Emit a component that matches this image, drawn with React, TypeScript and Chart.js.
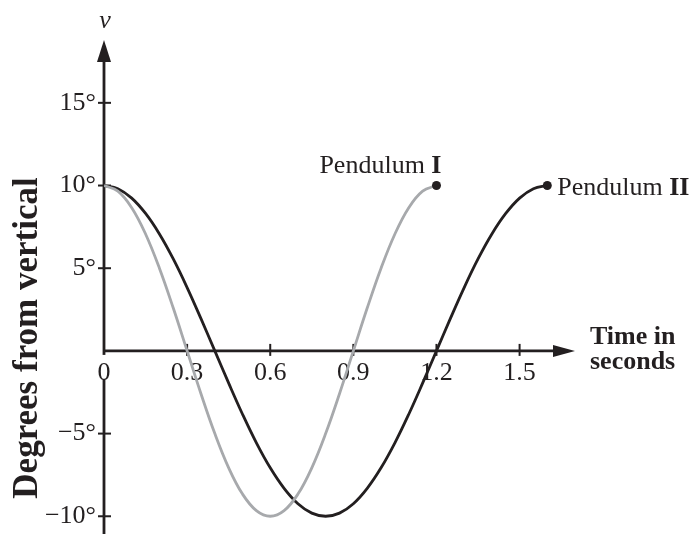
import React, { useEffect, useRef } from "react";
import { Chart, registerables } from "chart.js";

Chart.register(...registerables);

// Pendulum I: time (s) and angle (degrees)
const timeI = [0, 0.05, 0.1, 0.15, 0.2, 0.25, 0.3, 0.35, 0.4, 0.45, 0.5, 0.55, 0.6, 0.65, 0.7, 0.75, 0.8, 0.85, 0.9, 0.95, 1.0, 1.05, 1.1, 1.15, 1.2];
const degreesI = [10, 9.66, 8.66, 7.07, 5.0, 2.59, 0, -2.59, -5.0, -7.07, -8.66, -9.66, -10, -9.66, -8.66, -7.07, -5.0, -2.59, 0, 2.59, 5.0, 7.07, 8.66, 9.66, 10];

// Pendulum II
const timeII = [0, 0.05, 0.1, 0.15, 0.2, 0.25, 0.3, 0.35, 0.4, 0.45, 0.5, 0.55, 0.6, 0.65, 0.7, 0.75, 0.8, 0.85, 0.9, 0.95, 1.0, 1.05, 1.1, 1.15, 1.2, 1.25, 1.3, 1.35, 1.4, 1.45, 1.5, 1.55, 1.6];
const degreesII = [10, 9.81, 9.24, 8.31, 7.07, 5.56, 3.83, 1.95, 0, -1.95, -3.83, -5.56, -7.07, -8.31, -9.24, -9.81, -10, -9.81, -9.24, -8.31, -7.07, -5.56, -3.83, -1.95, 0, 1.95, 3.83, 5.56, 7.07, 8.31, 9.24, 9.81, 10];

const xTicks = [0.3, 0.6, 0.9, 1.2, 1.5];
const xTickLabels = ["0.3", "0.6", "0.9", "1.2", "1.5"];
const yTicks = [15, 10, 5, -5, -10];
const yTickLabels = ["15°", "10°", "5°", "\u22125°", "\u221210°"];

const seriesNames = ["Pendulum ", "Pendulum "];
const seriesNumerals = ["I", "II"];

const INK = "#231f20";
const GRAY = "#a7a9ac";
const SERIF = '"Liberation Serif", "DejaVu Serif", serif';

const axesPlugin = {
  id: "axesPlugin",
  beforeDatasetsDraw(chart: any) {
    const { ctx, chartArea, scales } = chart;
    const xs = scales.x;
    const ys = scales.y;
    const x0 = xs.getPixelForValue(0);
    const y0 = ys.getPixelForValue(0);
    ctx.save();
    ctx.strokeStyle = INK;
    ctx.fillStyle = INK;
    ctx.lineWidth = 2.8;
    ctx.lineCap = "butt";

    // y axis
    ctx.beginPath();
    ctx.moveTo(x0, chart.height);
    ctx.lineTo(x0, chartArea.top + 10);
    ctx.stroke();
    ctx.beginPath();
    ctx.moveTo(x0, chartArea.top);
    ctx.lineTo(x0 - 7, chartArea.top + 22);
    ctx.lineTo(x0 + 7, chartArea.top + 22);
    ctx.closePath();
    ctx.fill();

    // x axis
    ctx.beginPath();
    ctx.moveTo(x0, y0);
    ctx.lineTo(chartArea.right - 10, y0);
    ctx.stroke();
    ctx.beginPath();
    ctx.moveTo(chartArea.right, y0);
    ctx.lineTo(chartArea.right - 22, y0 - 6);
    ctx.lineTo(chartArea.right - 22, y0 + 6);
    ctx.closePath();
    ctx.fill();

    ctx.lineWidth = 2;
    // y ticks
    ctx.font = `26px ${SERIF}`;
    ctx.textAlign = "right";
    ctx.textBaseline = "middle";
    yTicks.forEach((v, i) => {
      const py = ys.getPixelForValue(v);
      ctx.beginPath();
      ctx.moveTo(x0 - 6, py);
      ctx.lineTo(x0 + 7, py);
      ctx.stroke();
      ctx.fillText(yTickLabels[i], x0 - 8, py);
    });

    // x ticks
    ctx.textAlign = "center";
    ctx.textBaseline = "alphabetic";
    xTicks.forEach((v, i) => {
      const px = xs.getPixelForValue(v);
      ctx.beginPath();
      ctx.moveTo(px, y0 - 7);
      ctx.lineTo(px, y0 + 5);
      ctx.stroke();
      ctx.fillText(xTickLabels[i], px, y0 + 29);
    });

    // origin label with white background
    ctx.fillStyle = "#ffffff";
    ctx.fillRect(x0 - 7, y0 + 4, 14, 24);
    ctx.fillStyle = INK;
    ctx.fillText("0", x0, y0 + 29);

    // v label
    ctx.font = `italic 26px ${SERIF}`;
    ctx.fillText("v", x0 + 1, chartArea.top - 12);

    // x axis title
    ctx.font = `bold 26px ${SERIF}`;
    ctx.textAlign = "left";
    ctx.fillText("Time in", chartArea.right + 15, y0 - 7);
    ctx.fillText("seconds", chartArea.right + 15, y0 + 18);

    // y axis title
    ctx.save();
    ctx.translate(37, 338);
    ctx.rotate(-Math.PI / 2);
    ctx.font = `bold 35px ${SERIF}`;
    ctx.textAlign = "center";
    ctx.textBaseline = "alphabetic";
    ctx.fillText("Degrees from vertical", 0, 0);
    ctx.restore();

    ctx.restore();
  },
  afterDatasetsDraw(chart: any) {
    const { ctx } = chart;
    ctx.save();
    ctx.fillStyle = INK;
    ctx.textBaseline = "alphabetic";
    chart.data.datasets.forEach((ds: any, di: number) => {
      const meta = chart.getDatasetMeta(di);
      const last = meta.data[meta.data.length - 1];
      if (!last) return;
      const name = seriesNames[di];
      const num = seriesNumerals[di];
      ctx.font = `26px ${SERIF}`;
      const w1 = ctx.measureText(name).width;
      ctx.font = `bold 26px ${SERIF}`;
      const w2 = ctx.measureText(num).width;
      let left: number;
      let base: number;
      if (di === 0) {
        left = last.x + 5 - (w1 + w2);
        base = last.y - 13;
      } else {
        left = last.x + 10;
        base = last.y + 9;
      }
      ctx.textAlign = "left";
      ctx.font = `26px ${SERIF}`;
      ctx.fillText(name, left, base);
      ctx.font = `bold 26px ${SERIF}`;
      ctx.fillText(num, left + w1, base);
    });
    ctx.restore();
  },
};

export default function App() {
  const canvasRef = useRef<HTMLCanvasElement | null>(null);

  useEffect(() => {
    const canvas = canvasRef.current;
    if (!canvas) return;
    const lastRadius = (n: number) => (c: any) => (c.dataIndex === n - 1 ? 4.5 : 0);
    const chart = new Chart(canvas, {
      type: "line",
      data: {
        datasets: [
          {
            label: "Pendulum I",
            data: timeI.map((t, i) => ({ x: t, y: degreesI[i] })),
            borderColor: GRAY,
            backgroundColor: INK,
            borderWidth: 2.8,
            tension: 0.4,
            pointRadius: lastRadius(timeI.length),
            pointBorderWidth: 0,
            pointBackgroundColor: INK,
            fill: false,
          },
          {
            label: "Pendulum II",
            data: timeII.map((t, i) => ({ x: t, y: degreesII[i] })),
            borderColor: INK,
            backgroundColor: INK,
            borderWidth: 2.8,
            tension: 0.4,
            pointRadius: lastRadius(timeII.length),
            pointBorderWidth: 0,
            pointBackgroundColor: INK,
            fill: false,
          },
        ],
      },
      options: {
        responsive: false,
        animation: false,
        layout: { padding: { left: 104, right: 118, top: 40, bottom: 2.7 } },
        plugins: {
          legend: { display: false },
          tooltip: { enabled: false },
          title: { display: false },
        },
        scales: {
          x: { type: "linear", min: 0, max: 1.7, display: false },
          y: { type: "linear", min: -10.8, max: 18.8, display: false },
        },
      },
      plugins: [axesPlugin],
    });
    return () => chart.destroy();
  }, []);

  return (
    <div style={{ position: "fixed", left: 0, top: 0, width: 693, height: 534, background: "#ffffff" }}>
      <canvas ref={canvasRef} width={693} height={534} style={{ display: "block" }} />
    </div>
  );
}
